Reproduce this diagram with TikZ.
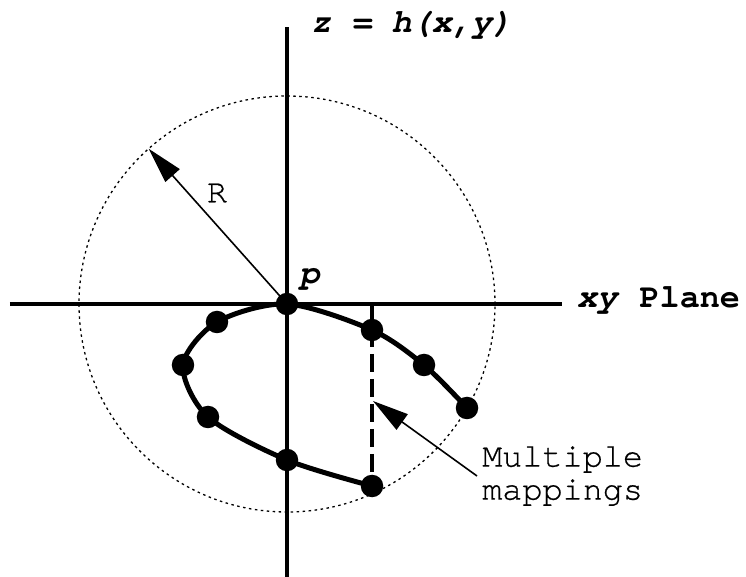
\documentclass[tikz,border=0pt]{standalone}
\usepackage{fontspec}
\setmonofont{TeX Gyre Cursor}
\newfontfamily\notefont[FakeBold=0.6]{TeX Gyre Cursor}
\usetikzlibrary{arrows.meta}

\begin{document}
\begin{tikzpicture}[x=1pt,y=1pt,font=\ttfamily\fontsize{33.5}{33}\selectfont,
      axis/.style={line width=3.5pt},
      dot/.style={circle,fill=black,minimum size=22.5pt,inner sep=0pt},
      track/.style={line width=5pt},
      rim/.style={line width=1.3pt,dash pattern=on 2.5pt off 3.5pt},
      mapline/.style={line width=3.2pt,dash pattern=on 18pt off 7pt},
      pointer/.style={line width=1.6pt,-{Triangle[length=36pt,width=19pt]}},
      note/.style={font=\notefont\fontsize{33.5}{33}\selectfont},
      lbl/.style={inner sep=0pt}]
    \useasboundingbox (-287,-273) rectangle (459,304);
    \coordinate (xl) at (-277,0); \coordinate (xr) at (275,0);
    \coordinate (zb) at (0,-273); \coordinate (zt) at (0,277);
    \draw[axis] (xl) -- (xr);
    \draw[axis] (zb) -- (zt);
    \node[dot] (p) at (0,0) {};
    \draw[rim] (p.center) circle[radius=208];
    % points of the track
    \foreach \n/\x/\y in {c1/85/-182,c2/0/-156,c3/-79/-113,c4/-104/-61,c5/-70/-18,c6/85/-26,c7/137/-61,c8/180/-104}
      \node[dot] (\n) at (\x,\y) {};
    \draw[track] plot[smooth] coordinates {(c1.center) (c2.center) (c3.center) (c4.center) (c5.center) (p.center) (c6.center) (c7.center) (c8.center)};
    \draw[mapline] (c1 |- p.center) -- (c1.center);
    % labels
    \node[lbl,anchor=base west] (zlab) at (24,271) {\textbf{\textit{z = h(x,y)}}};
    \node[lbl,anchor=base west] (xylab) at ([shift={(15,-4)}]xr) {\textbf{\textit{xy} Plane}};
    \node[lbl] (plab) at (23,25) {\textbf{\textit{p}}};
    \coordinate (edge) at (131.7:208);
    \draw[pointer] (p.center) -- (edge);
    \node[note] (rlab) at (-70,111) {R};
    \node[note,align=left,anchor=west,inner sep=5pt] (mm) at (190,-172) {Multiple\\mappings};
    \coordinate (hit) at (86,-97);
    \draw[pointer] (mm.west) -- (hit);
  \end{tikzpicture}
\end{document}
